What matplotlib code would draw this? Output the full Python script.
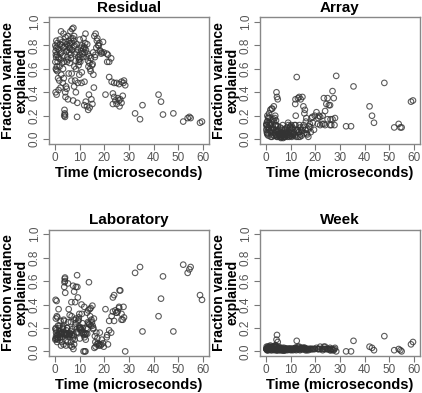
import matplotlib
matplotlib.use("Agg")
import matplotlib.pyplot as plt
import numpy as np

plt.rcParams['font.family'] = ['Liberation Sans', 'DejaVu Sans']

# time (microseconds) shared by all four panels
time_us = [
    0.2, 0.3, 0.5, 0.4, 0.6, 0.8, 0.5, 1.0, 1.2, 0.3, 0.7, 1.5, 1.3, 1.8, 2.0, 2.2, 1.6, 2.5, 2.8, 3.0,
    2.6, 3.2, 0.9, 1.1, 1.9,
    3.5, 3.8, 4.0, 4.1, 3.9, 4.2, 4.3, 4.5, 4.8, 3.6, 4.4, 4.6, 5.0, 5.2, 5.5, 5.8, 6.0, 6.3, 6.6, 5.3,
    5.6, 6.8, 3.3, 4.9, 5.9, 6.1, 6.4,
    7.0, 7.5, 7.8, 8.0, 7.4, 7.8, 8.5, 9.0, 9.3, 8.2, 8.8, 9.5, 9.8, 10.0, 10.3, 10.5, 7.0, 7.6, 8.6,
    9.1, 10.8, 10.1, 9.6,
    11.0, 11.5, 12.0, 12.3, 12.8, 12.5, 13.0, 13.5, 12.0, 11.6, 12.1, 12.4, 14.0, 14.3, 14.5, 15.0, 13.8,
    14.8, 15.2, 15.5, 15.8, 13.2, 11.2, 10.9, 13.6,
    16.0, 16.5, 17.0, 17.5, 18.0, 18.5, 19.0, 17.2, 16.2, 16.8, 18.2, 19.5, 15.6, 19.8,
    20.5, 21.0, 21.5, 21.2, 22.0, 22.8, 22.0, 23.0, 24.0, 25.0, 27.0, 28.0, 28.5, 26.0, 23.5, 24.0, 24.5,
    25.0, 26.0, 26.5, 27.0, 27.5, 23.5, 26.2, 27.8, 25.5,
    32.5, 34.5, 35.5, 42.0, 43.0, 43.8, 48.0, 52.0, 53.8, 54.5, 55.0, 58.8, 59.6,
    0.4, 0.6, 1.1, 1.4, 1.7, 2.1, 2.4, 2.7, 3.1, 3.4, 3.7, 4.0, 4.3, 4.7, 5.1, 5.4, 5.7, 6.2, 6.5, 6.9,
    7.3, 7.7, 8.1, 8.4, 8.7, 9.2, 9.7, 10.2, 10.6, 11.3, 11.8, 12.6, 13.1, 13.4, 13.9, 14.6, 15.3, 16.4,
    17.8, 18.8, 2.3, 4.1, 6.7, 11.9, 14.1, 9.9, 1.0, 0.2, 3.6, 7.9,
]

residual = [
    .80, .75, .70, .60, .59, .62, .78, .82, .77, .40, .38, .42, .52, .50, .85, .73, .69, .92, .80, .65,
    .55, .48, .72, .66, .62,
    .90, .20, .22, .19, .25, .40, .36, .45, .43, .78, .83, .75, .70, .88, .80, .74, .65, .92, .86, .34,
    .56, .56, .60, .66, .78, .82, .72,
    .94, .95, .88, .80, .33, .45, .40, .19, .48, .50, .74, .70, .68, .72, .66, .78, .76, .84, .60,
    .31, .48, .85, .63,
    .80, .77, .74, .82, .70, .32, .28, .25, .49, .86, .78, .90, .65, .60, .58, .63, .38,
    .34, .30, .74, .44, .73, .70, .57, .62,
    .88, .90, .84, .80, .82, .75, .74, .86, .70, .78, .76, .83, .55, .74,
    .38, .73, .72, .66, .66, .69, .53, .49, .48, .48, .49, .50, .46, .47, .39, .36, .33,
    .30, .33, .34, .31, .37, .30, .28, .48, .35,
    .22, .17, .29, .38, .32, .21, .22, .15, .18, .19, .18, .14, .15,
    .72, .84, .79, .70, .76, .81, .68, .74, .83, .71, .66, .79, .87, .81, .76, .68, .84, .77, .69, .82,
    .86, .79, .73, .67, .81, .76, .66, .69, .75, .73, .79, .76, .81, .67, .71, .69, .64, .72,
    .80, .73, .44, .21, .50, .29, .27, .55, .58, .66, .52, .62,
]

array_frac = [
    .08, .12, .15, .10, .20, .05, .05, .03, .10, .12, .15, .18, .22, .25, .02, .08, .12, .02, .10, .17,
    .26, .28, .18, .19, .13,
    .03, .20, .12, .16, .11, .08, .40, .36, .34, .05, .02, .06, .08, .03, .04, .10, .02, .02, .05, .04,
    .05, .12, .15, .11, .04, .01, .09,
    .01, .02, .05, .08, .08, .02, .03, .14, .04, .06, .05, .02, .10, .05, .12, .02, .03, .02, .10,
    .12, .10, .03, .08,
    .03, .06, .12, .02, .08, .53, .35, .36, .34, .12, .20, .08, .10, .08, .03, .10, .02,
    .36, .28, .05, .25, .06, .04, .09, .12,
    .08, .05, .08, .11, .10, .18, .14, .02, .15, .04, .06, .08, .22, .20,
    .23, .13, .20, .18, .12, .13, .19, .20, .24, .17, .17, .18, .54, .12, .13, .12, .30,
    .35, .29, .12, .41, .35, .35, .17, .12, .29,
    .11, .11, .45, .28, .20, .14, .48, .10, .13, .10, .10, .32, .33,
    .06, .04, .08, .14, .07, .05, .16, .09, .03, .08, .06, .04, .03, .02, .07, .05, .02, .06, .04, .03,
    .02, .05, .04, .07, .02, .06, .03, .09, .04, .05, .03, .07, .02, .06, .04, .07, .12, .18,
    .13, .19, .26, .12, .05, .30, .34, .11, .10, .13, .18, .09,
]

laboratory = [
    .10, .11, .13, .28, .18, .30, .16, .14, .10, .44, .43, .36, .22, .20, .12, .17, .17, .05, .08, .16,
    .15, .20, .08, .12, .22,
    .06, .55, .62, .60, .59, .50, .14, .05, .15, .15, .14, .18, .20, .08, .14, .14, .31, .05, .08, .58,
    .36, .30, .21, .20, .16, .15, .17,
    .04, .02, .06, .10, .56, .51, .55, .65, .46, .42, .19, .26, .20, .21, .20, .18, .19, .13, .28,
    .55, .40, .11, .27,
    .16, .15, .12, .15, .20, .10, .33, .35, .14, .00, .00, .00, .23, .30, .37, .25, .59,
    .27, .39, .19, .28, .19, .24, .32, .24,
    .03, .04, .06, .07, .06, .05, .10, .11, .13, .16, .16, .07, .20, .04,
    .36, .12, .06, .14, .18, .16, .26, .30, .26, .33, .32, .29, .00, .38, .46, .48, .35,
    .33, .37, .52, .27, .27, .34, .52, .38, .34,
    .67, .72, .17, .30, .45, .64, .17, .74, .67, .70, .72, .48, .44,
    .20, .11, .11, .14, .15, .12, .14, .15, .12, .19, .26, .15, .09, .15, .15, .25, .13, .15, .25, .14,
    .11, .14, .21, .24, .16, .16, .29, .20, .19, .20, .16, .15, .15, .25, .23, .22, .22, .08,
    .05, .06, .26, .63, .42, .38, .36, .32, .29, .19, .27, .27,
]

week = [
    .02, .02, .02, .02, .03, .03, .01, .01, .03, .04, .04, .04, .04, .05, .01, .02, .02, .01, .02, .02,
    .04, .04, .02, .03, .03,
    .01, .05, .04, .05, .05, .02, .10, .14, .08, .02, .01, .01, .02, .01, .02, .02, .02, .01, .01, .04,
    .03, .02, .04, .03, .02, .02, .02,
    .01, .01, .01, .02, .03, .02, .02, .02, .02, .02, .02, .02, .02, .02, .02, .02, .02, .01, .02,
    .02, .02, .01, .02,
    .01, .02, .02, .01, .02, .09, .04, .04, .03, .02, .02, .02, .02, .02, .02, .02, .01,
    .03, .03, .02, .03, .02, .02, .02, .02,
    .01, .01, .02, .02, .02, .02, .02, .01, .02, .02, .02, .02, .03, .02,
    .03, .02, .02, .02, .04, .02, .02, .01, .02, .02, .02, .03, .00, .03, .02, .04, .02,
    .02, .01, .02, .01, .01, .04, .01, .02, .02,
    .00, .00, .09, .04, .03, .01, .13, .01, .02, .01, .00, .06, .08,
    .02, .01, .02, .02, .02, .02, .02, .02, .02, .02, .02, .02, .01, .02, .02, .02, .01, .02, .02, .01,
    .01, .02, .02, .02, .01, .02, .02, .02, .02, .02, .02, .02, .02, .02, .02, .02, .02, .02,
    .02, .02, .04, .04, .03, .03, .03, .02, .03, .02, .03, .02,
]

panels = [
    ("Residual", residual),
    ("Array", array_frac),
    ("Laboratory", laboratory),
    ("Week", week),
]

fig = plt.figure(figsize=(4.22, 3.93), dpi=100)
lefts = [0.116, 0.616]
bottoms = [0.634, 0.094]

for i, (title, values) in enumerate(panels):
    ax = fig.add_axes([lefts[i % 2], bottoms[i // 2], 0.379, 0.322])
    ax.scatter(time_us, values, s=16, facecolors='none', edgecolors='#333333',
               linewidths=0.8, alpha=0.8)
    ax.set_xlim(-2.4, 62.4)
    ax.set_ylim(-0.04, 1.04)
    ax.set_xticks(np.arange(0, 61, 10))
    ax.set_yticks(np.arange(0, 1.01, 0.2))
    ax.set_yticklabels([f'{v:.1f}' for v in np.arange(0, 1.01, 0.2)],
                       rotation=90, va='center')
    ax.tick_params(colors='#777777', labelcolor='#555555', labelsize=8.5,
                   length=4, width=0.8, direction='out', pad=2)
    for sp in ax.spines.values():
        sp.set_color('#888888')
        sp.set_linewidth(1.0)
    ax.set_title(title, fontsize=11, fontweight='bold', pad=4)
    ax.set_xlabel('Time (microseconds)', fontsize=10.5, fontweight='bold', labelpad=1)
    ax.set_ylabel('Fraction variance\nexplained', fontsize=10.2, fontweight='bold',
                  linespacing=0.95, va='center')
    ax.yaxis.set_label_coords(-0.215, 0.5)

fig.savefig('out.png', dpi=100)
